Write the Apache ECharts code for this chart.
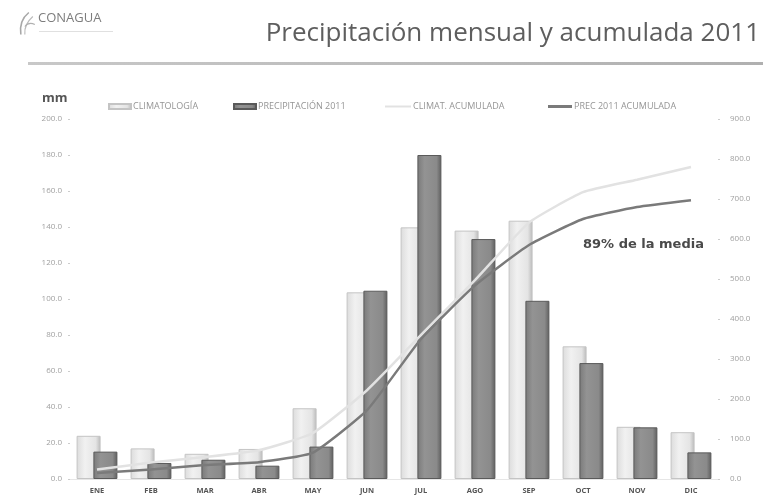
<!DOCTYPE html>
<html>
<head>
<meta charset="utf-8">
<script src="https://cdn.jsdelivr.net/npm/echarts@6/dist/echarts.min.js"></script>
<style>
  html, body { margin: 0; padding: 0; background: #fff; }
  #chart { width: 763px; height: 495px; }
</style>
</head>
<body>
<div id="chart"></div>
<script>
// Monthly rainfall (mm): climatological normal vs. 2011, plus running totals
const months = ['ENE', 'FEB', 'MAR', 'ABR', 'MAY', 'JUN', 'JUL', 'AGO', 'SEP', 'OCT', 'NOV', 'DIC'];
const climatologia = [24.0, 17.0, 14.0, 16.7, 39.3, 103.7, 139.8, 138.0, 143.5, 73.7, 29.0, 26.0];
const precip2011 = [15.2, 8.9, 10.7, 7.4, 18.0, 104.6, 180.0, 133.3, 99.0, 64.4, 28.7, 14.8];
const climAcumulada = [24, 41, 55, 72, 115, 222, 360, 497, 641, 717, 748, 780];
const precAcumulada = [15, 24, 35, 42, 66, 172, 350, 484, 585, 650, 680, 697];
const leftTicks = { min: 0, max: 200, interval: 20 };
const rightTicks = { min: 0, max: 900, interval: 100 };
const seriesNames = ['CLIMATOLOGÍA', 'PRECIPITACIÓN 2011', 'CLIMAT. ACUMULADA', 'PREC 2011 ACUMULADA'];
const noteText = '89% de la media';

const chart = echarts.init(document.getElementById('chart'), null, { renderer: 'canvas' });

const lightBar = new echarts.graphic.LinearGradient(0, 0, 1, 0, [
  { offset: 0, color: '#dcdcdc' },
  { offset: 0.35, color: '#f1f1f1' },
  { offset: 0.8, color: '#e4e4e4' },
  { offset: 1, color: '#b9b9b9' }
]);
const darkBar = new echarts.graphic.LinearGradient(0, 0, 1, 0, [
  { offset: 0, color: '#7a7a7a' },
  { offset: 0.3, color: '#939393' },
  { offset: 0.8, color: '#8a8a8a' },
  { offset: 1, color: '#5e5e5e' }
]);

const legendText = { fontFamily: 'Open Sans', fontSize: 9, color: '#959595' };
function legendAt(left, name, icon, w, h) {
  return {
    left: left, top: 97, data: [name], icon: icon,
    itemWidth: w, itemHeight: h, itemGap: 4,
    textStyle: Object.assign({ padding: [0, 0, 0, -3] }, legendText),
    selectedMode: false
  };
}

const option = {
  backgroundColor: '#ffffff',
  animation: false,
  grid: { left: 70, right: 45, top: 119, bottom: 15, containLabel: false },
  legend: [
    legendAt(103, seriesNames[0], 'rect', 22, 5),
    legendAt(228, seriesNames[1], 'rect', 22, 5),
    legendAt(380, seriesNames[2], 'rect', 26, 2),
    legendAt(543, seriesNames[3], 'rect', 24, 3)
  ],
  xAxis: {
    type: 'category',
    data: months,
    axisLine: { show: true, lineStyle: { color: '#e6e6e6' } },
    axisTick: { show: false },
    axisLabel: {
      fontFamily: 'Open Sans', fontSize: 7.5, fontWeight: 'bold', color: '#555',
      margin: 8
    }
  },
  yAxis: [
    {
      type: 'value', min: leftTicks.min, max: leftTicks.max, interval: leftTicks.interval,
      splitLine: { show: false },
      axisLine: { show: false },
      axisTick: { show: true, length: 2, lineStyle: { color: '#ccc' } },
      axisLabel: {
        fontFamily: 'Open Sans', fontSize: 8, color: '#a0a0a0', margin: 8,
        formatter: v => v.toFixed(1)
      }
    },
    {
      type: 'value', min: rightTicks.min, max: rightTicks.max, interval: rightTicks.interval,
      splitLine: { show: false },
      axisLine: { show: false },
      axisTick: { show: true, length: 2, lineStyle: { color: '#ccc' } },
      axisLabel: {
        fontFamily: 'Open Sans', fontSize: 8, color: '#a0a0a0', margin: 12,
        formatter: v => v.toFixed(1)
      }
    }
  ],
  series: [
    {
      name: seriesNames[0], type: 'bar', yAxisIndex: 0, data: climatologia,
      barWidth: 24, barGap: '-30%',
      itemStyle: { color: lightBar, borderColor: '#c4c4c4', borderWidth: 1 },
      z: 2
    },
    {
      name: seriesNames[1], type: 'bar', yAxisIndex: 0, data: precip2011,
      barWidth: 24,
      itemStyle: { color: darkBar, borderColor: '#5a5a5a', borderWidth: 1 },
      z: 3
    },
    {
      name: seriesNames[2], type: 'line', yAxisIndex: 1, data: climAcumulada,
      symbol: 'none', smooth: 0.15,
      lineStyle: { color: '#e2e2e2', width: 2.5 },
      itemStyle: { color: '#e2e2e2' },
      z: 5
    },
    {
      name: seriesNames[3], type: 'line', yAxisIndex: 1, data: precAcumulada,
      symbol: 'none', smooth: 0.15,
      lineStyle: { color: '#7a7a7a', width: 2.5 },
      itemStyle: { color: '#7a7a7a' },
      z: 6
    }
  ],
  graphic: [
    // header logo mark
    {
      type: 'group', left: 18, top: 10,
      children: [
        { type: 'bezierCurve', shape: { x1: 10, y1: 0, x2: 2, y2: 22, cpx1: 0, cpy1: 8 },
          style: { stroke: '#a8a8a8', lineWidth: 1.6, fill: null } },
        { type: 'bezierCurve', shape: { x1: 14, y1: 4, x2: 6, y2: 22, cpx1: 5, cpy1: 12 },
          style: { stroke: '#bcbcbc', lineWidth: 1.2, fill: null } },
        { type: 'bezierCurve', shape: { x1: 6, y1: 14, x2: 16, y2: 12, cpx1: 10, cpy1: 9 },
          style: { stroke: '#b0b0b0', lineWidth: 1.2, fill: null } }
      ]
    },
    {
      type: 'text', left: 38, top: 12,
      style: { text: 'CONAGUA', fontFamily: 'Open Sans', fontSize: 13, fill: '#7d7d7d' }
    },
    {
      type: 'rect', left: 39, top: 31, shape: { width: 74, height: 1 },
      style: { fill: '#e0e0e0' }
    },
    // page title
    {
      type: 'text', right: 3, top: 21,
      style: {
        text: 'Precipitación mensual y acumulada 2011',
        fontFamily: 'Open Sans', fontSize: 26, fill: '#5e5e5e'
      }
    },
    // divider under the header
    {
      type: 'rect', left: 28, top: 62, shape: { width: 735, height: 3 },
      style: {
        fill: new echarts.graphic.LinearGradient(0, 0, 1, 0, [
          { offset: 0, color: '#c8c8c8' }, { offset: 1, color: '#b0b0b0' }
        ])
      }
    },
    // unit label for the left axis
    {
      type: 'text', left: 42, top: 92,
      style: { text: 'mm', fontFamily: 'Open Sans', fontSize: 13, fontWeight: 'bold', fill: '#555' }
    },
    // note on the 2011 total
    {
      type: 'text', left: 583, top: 238,
      style: {
        text: noteText, fontFamily: 'DejaVu Sans', fontSize: 13,
        fontWeight: 'bold', fill: '#4a4a4a'
      }
    }
  ]
};

chart.setOption(option);
</script>
</body>
</html>
